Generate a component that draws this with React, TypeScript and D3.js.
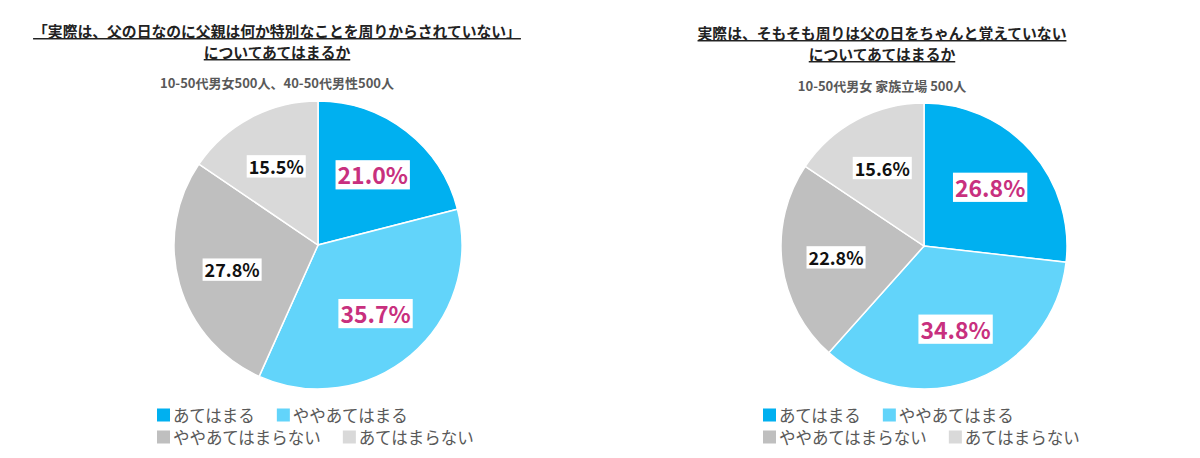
import React, { useEffect, useRef } from 'react';
import * as d3 from 'd3';

const categories = ['あてはまる', 'ややあてはまる', 'ややあてはまらない', 'あてはまらない'];
const colors = ['#00B0F0', '#62D4FA', '#BFBFBF', '#D9D9D9'];
const labelColors = ['#C8307E', '#C8307E', '#111111', '#111111'];
const labelSizes = [23, 23, 18, 18];

const leftValues = [21.0, 35.7, 27.8, 15.5];
const rightValues = [26.8, 34.8, 22.8, 15.6];

const leftTitle = ['「実際は、父の日なのに父親は何か特別なことを周りからされていない」', 'についてあてはまるか'];
const rightTitle = ['実際は、そもそも周りは父の日をちゃんと覚えていない', 'についてあてはまるか'];
const leftSubtitle = '10-50代男女500人、40-50代男性500人';
const rightSubtitle = '10-50代男女 家族立場 500人';

const charts = [
  { values: leftValues, title: leftTitle, subtitle: leftSubtitle, cx: 318, cy: 245, r: 144, tx: 277, ty: 37, sy: 88 },
  { values: rightValues, title: rightTitle, subtitle: rightSubtitle, cx: 924, cy: 246, r: 143, tx: 882, ty: 39, sy: 91 },
];

const FONT = "'Noto Sans CJK JP', 'Noto Sans', sans-serif";

export default function App() {
  const ref = useRef<SVGSVGElement>(null);

  useEffect(() => {
    const svg = d3.select(ref.current);
    svg.selectAll('*').remove();
    svg.append('rect').attr('width', 1200).attr('height', 458).attr('fill', '#fff');

    charts.forEach((c) => {
      const g = svg.append('g');
      c.title.forEach((t, i) => {
        g.append('text')
          .attr('x', c.tx)
          .attr('y', c.ty + i * 21)
          .attr('text-anchor', 'middle')
          .attr('font-family', FONT)
          .attr('font-weight', 'bold')
          .attr('font-size', 14.8)
          .attr('fill', '#222')
          .style('text-decoration', 'underline')
          .text(t);
      });
      g.append('text')
        .attr('x', c.tx)
        .attr('y', c.sy)
        .attr('text-anchor', 'middle')
        .attr('font-family', FONT)
        .attr('font-weight', 'bold')
        .attr('font-size', 13)
        .attr('fill', '#595959')
        .text(c.subtitle);

      const pie = d3.pie<number>().sort(null).value((d) => d);
      const arcs = pie(c.values);
      const arc = d3.arc<d3.PieArcDatum<number>>().innerRadius(0).outerRadius(c.r);
      const labelArc = d3.arc<d3.PieArcDatum<number>>().innerRadius(c.r * 0.62).outerRadius(c.r * 0.62);
      const pg = g.append('g').attr('transform', `translate(${c.cx},${c.cy})`);
      pg.selectAll('path')
        .data(arcs)
        .join('path')
        .attr('d', arc)
        .attr('fill', (_, i) => colors[i])
        .attr('stroke', '#fff')
        .attr('stroke-width', 1.5);

      arcs.forEach((a, i) => {
        const [x, y] = labelArc.centroid(a);
        const lg = pg.append('g');
        const rect = lg.append('rect').attr('fill', '#fff');
        const txt = lg
          .append('text')
          .attr('x', x)
          .attr('y', y)
          .attr('text-anchor', 'middle')
          .attr('dominant-baseline', 'central')
          .attr('font-family', FONT)
          .attr('font-weight', 'bold')
          .attr('font-size', labelSizes[i])
          .attr('fill', labelColors[i])
          .text(d3.format('.1f')(a.data) + '%');
        const bb = (txt.node() as SVGTextElement).getBBox();
        rect
          .attr('x', bb.x - 2)
          .attr('y', bb.y + bb.height * 0.08)
          .attr('width', bb.width + 4)
          .attr('height', bb.height * 0.86);
      });

      const lx = c.cx - 161;
      const rows = [
        [0, 1],
        [2, 3],
      ];
      rows.forEach((row, ri) => {
        let x = lx;
        const yc = 415 + ri * 22;
        row.forEach((ci) => {
          g.append('rect')
            .attr('x', x)
            .attr('y', yc - 6.5)
            .attr('width', 13)
            .attr('height', 13)
            .attr('fill', colors[ci]);
          const t = g
            .append('text')
            .attr('x', x + 16)
            .attr('y', yc)
            .attr('dominant-baseline', 'central')
            .attr('font-family', FONT)
            .attr('font-size', 16.5)
            .attr('fill', '#595959')
            .text(categories[ci]);
          const w = (t.node() as SVGTextElement).getComputedTextLength();
          x = x + 16 + w + 22;
        });
      });
    });
  }, []);

  return (
    <svg
      ref={ref}
      width={1200}
      height={458}
      style={{ position: 'absolute', left: 0, top: 0, background: '#fff' }}
    />
  );
}
